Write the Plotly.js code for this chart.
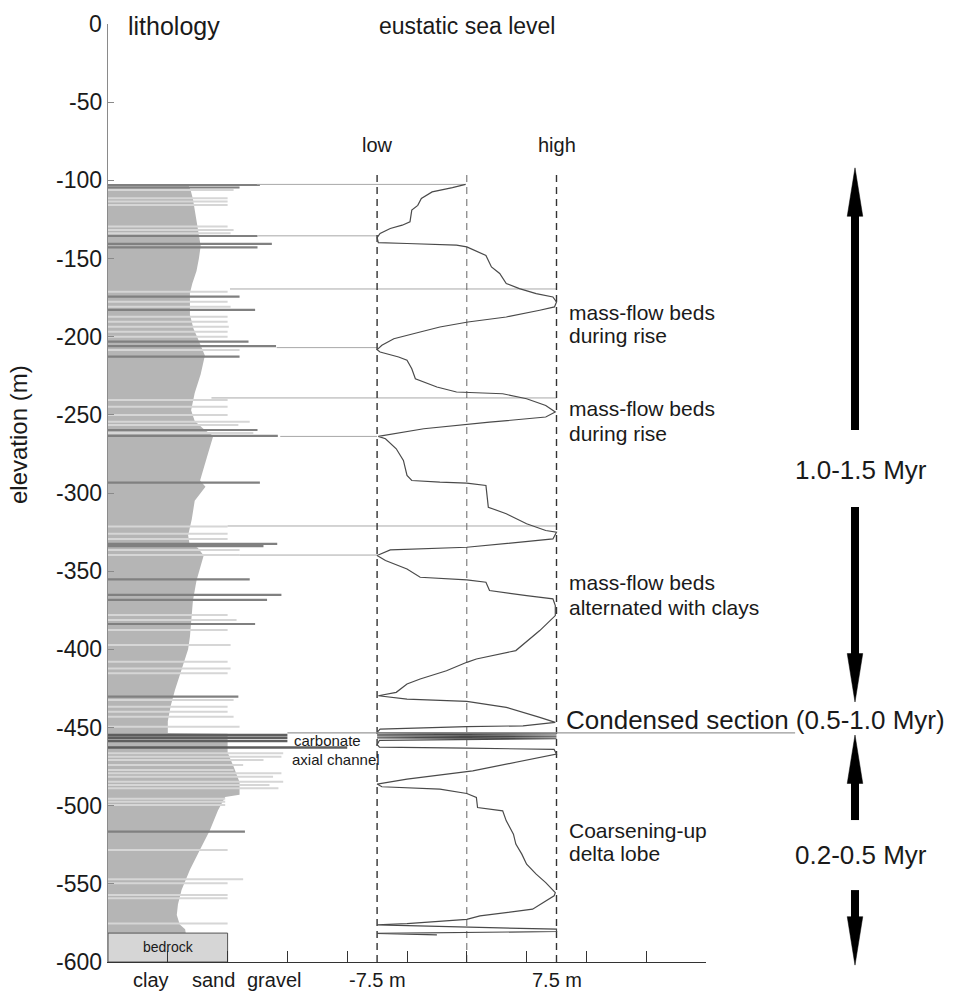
<!DOCTYPE html>
<html><head><meta charset="utf-8">
<script src="https://cdn.plot.ly/plotly-3.0.1.min.js"></script>
<style>html,body{margin:0;padding:0;background:#fff;}#chart{width:954px;height:992px;}</style>
</head><body><div id="chart"></div>
<script>
// ===== DATA =====
// eustatic sea-level curve (m relative to mean) vs elevation (m)
const seaLevelElev = [-102.6,-104.7,-107.4,-111.6,-116,-119,-126.6,-128.7,-130.8,-134,-136.6,-139.8,-140.4,-141.5,-142.6,-148,-155.4,-159.6,-166,-169.3,-172.5,-174.6,-177.8,-181,-183.1,-187.4,-190.6,-193.8,-197,-201.3,-205.5,-208.3,-209.8,-213,-215,-220.5,-226.9,-232.2,-235.4,-236.5,-239.7,-244,-248.2,-251.4,-254.7,-256.1,-258.9,-263.8,-265.3,-271.7,-279.2,-288.8,-292,-293.1,-293.7,-295.2,-309.1,-313.3,-319.7,-324,-325.1,-329.4,-334.7,-336.4,-340,-343.2,-348.6,-353.9,-355.6,-357.1,-362.4,-365.6,-367.7,-372,-378.4,-388,-400.8,-406.2,-408.3,-413.7,-419,-422.2,-427.5,-429.7,-431.8,-433.3,-437.1,-443.5,-446.7,-448.9,-449.5,-451,-453.1,-453.6,-454.2,-454.8,-455.4,-456,-456.6,-457.2,-458.2,-461,-462.6,-463.2,-464,-467,-477.7,-483,-486.2,-487.9,-489.4,-492.2,-494.8,-501.2,-503.3,-509.7,-518.2,-524.6,-531,-537.4,-543.8,-549.2,-555.6,-557.7,-566.2,-570.5,-572.7,-575.5,-576.3,-579,-580.5,-581.7,-582.6];
const seaLevelM = [-0.1,-1.2,-2.9,-3.8,-4.1,-4.6,-4.75,-5.4,-6.4,-7.25,-7.5,-7.4,-5,-0.86,0,1.6,2.06,2.75,3.3,4.4,5.8,7.2,7.5,7.33,6.1,3.3,0.1,-2.25,-3.9,-6.1,-7.1,-7.5,-7.25,-5.7,-5.0,-4.6,-4.3,-2.5,-0.86,3.0,5.0,6.6,7.4,6.6,1.9,0,-3.6,-7.4,-6.8,-5.9,-5.3,-5.0,-4.6,-2.25,0,1.6,1.8,3.3,5.0,6.6,7.5,7.2,0,-6.4,-7.5,-6.8,-5,-3.9,0,1.6,1.9,5.0,7.2,7.4,7.4,6.1,4.1,0.8,0,-1.7,-3.9,-5,-5.9,-7.4,-5,0,3.3,6.1,7.4,4.7,0,-7.25,-7.5,7.5,-7.5,7.5,-7.5,7.5,-7.5,7.5,-7.3,-7.5,-7.3,0,7.3,7.5,0.5,-5,-7.5,-7.1,-2.25,0,0.8,0.9,3.0,3.3,3.9,4.1,4.6,5.0,5.8,6.6,7.4,7.3,5.5,1.1,0,-5,-7.5,7.5,7.5,-7.5,-2.5];

// lithology: clay/sand boundary profile (grain-size units, 0 = clay, 2 = sand, 3 = gravel)
const profileElev = [-102.8,-106,-112,-122,-132,-142,-150,-158,-166,-172,-186,-195,-201,-206,-212,-224,-236,-247,-254,-259,-263.5,-275,-292,-296,-305,-317,-327,-332,-335,-340,-350,-356,-369,-381,-392,-400,-413,-426,-436,-446,-453.5,-454,-463,-466,-475,-485,-493,-494.5,-503,-516,-528,-541,-554,-563,-570,-576,-579,-581.5];
const profileWidth = [1.34,1.38,1.42,1.46,1.5,1.55,1.52,1.48,1.41,1.37,1.37,1.43,1.5,1.55,1.62,1.55,1.45,1.39,1.45,1.6,1.76,1.67,1.54,1.63,1.45,1.40,1.34,1.36,1.5,1.6,1.52,1.48,1.42,1.40,1.37,1.34,1.23,1.12,1.05,1.0,1.0,2.0,2.0,2.0,2.1,2.2,2.2,1.96,1.84,1.7,1.54,1.37,1.23,1.17,1.15,1.2,1.29,1.3];

// sand beds (light) : elevation and grain-size extent
const sandBedElev = [-106.2,-111.5,-113.6,-115.8,-129.6,-131.8,-133.9,-171.2,-177.6,-180.8,-187.2,-190.4,-193.6,-196.8,-200.0,-208.5,-240.5,-244.8,-250.1,-254.4,-256.5,-261.6,-321.5,-326,-329.5,-336.5,-339.7,-378.0,-381.2,-387.6,-397.2,-407.9,-412.2,-415.3,-432.4,-436.7,-439.9,-443.1,-449.5,-466.5,-468.7,-470.8,-474.0,-477.2,-479.3,-481.5,-484.7,-486.8,-488.9,-495.5,-497.5,-499.6,-528.4,-547.1,-549.7,-557.2,-559.3,-575.3];
const sandBedExtent = [2.1,2.0,2.0,2.0,2.0,2.1,2.05,2.0,2.0,2.05,2.0,2.0,2.02,2.0,2.0,2.2,2.0,2.0,2.0,2.37,2.18,2.43,2.0,2.0,2.0,2.2,2.2,2.0,2.15,2.0,2.05,2.0,2.05,2.0,2.1,2.0,2.0,2.1,2.2,2.93,2.9,2.6,2.26,2.1,2.9,2.76,2.93,2.7,2.85,1.96,1.96,1.96,2.0,2.26,2.0,2.0,2.0,2.0];

// gravel / mass-flow beds (dark)
const gravelBedElev = [-103.0,-104.6,-135.6,-140.7,-142.9,-174.4,-182.9,-203.2,-206.0,-212.8,-259.7,-263.5,-293.4,-332.6,-334.0,-355.2,-365.2,-368.4,-383.8,-430.3,-516.6];
const gravelBedExtent = [2.54,2.2,2.5,2.74,2.5,2.2,2.46,2.35,2.81,2.2,2.5,2.84,2.54,2.83,2.6,2.37,2.9,2.66,2.46,2.18,2.29];

// carbonate axial channel beds
const carbonateElev = [-454.8,-456.6,-458.6,-462.8];
const carbonateExtent = [3.0,3.0,3.0,4.0];

// correlation lines: elevation, start (grain-size units), end (sea level m)
const corrElev = [-102.6,-135.5,-169.5,-207.0,-239.2,-263.8,-321.1,-339.7];
const corrStart = [2.49,2.51,2.04,2.82,1.73,2.88,2.0,2.2];
const corrEndM = [-0.1,-7.5,7.5,-7.5,7.5,-7.5,7.5,-7.5];

// condensed section line
const condensedElev = -453.5;
const condensedFrom = 3.0, condensedTo = 11.49;

// bedrock
const bedrockTop = -581.5, bedrockBottom = -600, bedrockWidth = 2;

// sea-level reference lines (m)
const seaRefM = [-7.5, 0, 7.5];
const seaRefTop = -96.6;

// elevation ticks
const yTickVals = [0,-50,-100,-150,-200,-250,-300,-350,-400,-450,-500,-550,-600];
const yTickText = ['0','-50','-100','-150','-200','-250','-300','-350','-400','-450','-500','-550','-600'];

// bottom axis labels
const xLabelText = ['clay','sand','gravel','-7.5 m','7.5 m'];
const xLabelPos = [0.72, 1.77, 2.78, 4.5, 7.5];

// age intervals (double arrows)
const ageLabels = ['1.0-1.5 Myr', '0.2-0.5 Myr'];
const ageTop = [-92, -454.8];
const ageBottom = [-433.7, -602];
const ageGapTop = [-259.7, -509.2];
const ageGapBottom = [-309, -554];
const ageLabelElev = [-285.3, -531.6];

// ===== GEOMETRY =====
const W = 954, H = 992, M = {l:108, r:0, t:4, b:4};
const plotW = W - M.l - M.r, plotH = H - M.t - M.b;
const axRightPx = 706, axTopPx = 24, axBotPx = 962;
const pxPerUnit = (axRightPx - M.l) / 10;
const pxPerM = (axBotPx - axTopPx) / 600;
const xDomEnd = (axRightPx - M.l) / plotW;
const yDom = [(H - M.b - axBotPx) / plotH, (H - M.b - axTopPx) / plotH];
const x3Range = [0, plotW / pxPerUnit];
const y3Range = [-(H - M.b - axTopPx) / pxPerM, (axTopPx - M.t) / pxPerM];
const mToU = m => 6 + m / 5;   // sea-level metres -> grain-size axis units
const arrowU = (855 - M.l) / pxPerUnit;

const FONT = 'Liberation Sans, Arial, Helvetica, sans-serif';

function segs(elev, ext, x0) {
  const xs = [], ys = [];
  elev.forEach((e, i) => { xs.push(x0, ext[i], null); ys.push(e, e, null); });
  return {xs, ys};
}

const traces = [];
// clay fill
traces.push({x: profileWidth, y: profileElev, type:'scatter', mode:'lines', fill:'tozerox',
  fillcolor:'#b5b5b5', line:{width:0, color:'#b5b5b5'}, hoverinfo:'skip', xaxis:'x', yaxis:'y'});
// sand beds
let s = segs(sandBedElev, sandBedExtent, 0);
traces.push({x:s.xs, y:s.ys, type:'scatter', mode:'lines', line:{color:'#d6d6d6', width:2}, hoverinfo:'skip'});
// gravel beds
s = segs(gravelBedElev, gravelBedExtent, 0);
traces.push({x:s.xs, y:s.ys, type:'scatter', mode:'lines', line:{color:'#808080', width:2.2}, hoverinfo:'skip'});
// carbonate
s = segs(carbonateElev, carbonateExtent, 0);
traces.push({x:s.xs, y:s.ys, type:'scatter', mode:'lines', line:{color:'#5e5e5e', width:2.5}, hoverinfo:'skip'});
// correlation lines
{
  const xs = [], ys = [];
  corrElev.forEach((e, i) => { xs.push(corrStart[i], mToU(corrEndM[i]), null); ys.push(e, e, null); });
  traces.push({x:xs, y:ys, type:'scatter', mode:'lines', line:{color:'#a8a8a8', width:1}, hoverinfo:'skip'});
}
// bedrock
traces.push({x:[0,bedrockWidth,bedrockWidth,0,0], y:[bedrockTop,bedrockTop,bedrockBottom,bedrockBottom,bedrockTop],
  type:'scatter', mode:'lines', fill:'toself', fillcolor:'#d6d6d6', line:{color:'#555', width:1}, hoverinfo:'skip'});
// sea-level reference dashed lines
seaRefM.forEach((m, i) => {
  traces.push({x:[m, m], y:[seaRefTop, -600], type:'scatter', mode:'lines', xaxis:'x2', yaxis:'y',
    line:{color: i === 1 ? '#666' : '#333', width: i === 1 ? 1 : 1.4, dash:'7px,5px'}, hoverinfo:'skip'});
});
// sea-level curve
traces.push({x: seaLevelM, y: seaLevelElev, type:'scatter', mode:'lines', xaxis:'x2', yaxis:'y',
  line:{color:'#4a4a4a', width:1.2}, hoverinfo:'skip'});
// condensed section line
traces.push({x:[condensedFrom, condensedTo], y:[condensedElev, condensedElev], type:'scatter', mode:'lines',
  xaxis:'x3', yaxis:'y3', line:{color:'#999', width:1.2}, hoverinfo:'skip'});
// age arrows
const headLen = 31, headHalf = 0.13;
ageLabels.forEach((lab, i) => {
  traces.push({x:[arrowU, arrowU, null, arrowU, arrowU],
    y:[ageTop[i] - headLen + 1, ageGapTop[i], null, ageGapBottom[i], ageBottom[i] + headLen - 1],
    type:'scatter', mode:'lines', xaxis:'x3', yaxis:'y3', line:{color:'#000', width:8}, hoverinfo:'skip'});
  traces.push({x:[arrowU-headHalf, arrowU+headHalf, arrowU, arrowU-headHalf, null, arrowU-headHalf, arrowU+headHalf, arrowU, arrowU-headHalf],
    y:[ageTop[i]-headLen, ageTop[i]-headLen, ageTop[i], ageTop[i]-headLen, null, ageBottom[i]+headLen, ageBottom[i]+headLen, ageBottom[i], ageBottom[i]+headLen],
    type:'scatter', mode:'lines', fill:'toself', fillcolor:'#000', xaxis:'x3', yaxis:'y3', line:{color:'#000', width:0.5}, hoverinfo:'skip'});
});

// ===== ANNOTATIONS =====
const pxU = px => (px - M.l) / pxPerUnit;
const pxE = py => -(py - axTopPx) / pxPerM;
function ann(text, xpx, ypx, size, xanchor, extra) {
  return Object.assign({text, x: pxU(xpx), y: pxE(ypx), xref:'x3', yref:'y3', showarrow:false,
    xanchor: xanchor || 'center', yanchor:'middle', font:{family:FONT, size, color:'#1a1a1a'}}, extra || {});
}
const annotations = [
  ann('lithology', 126, 26, 25, 'left'),
  ann('eustatic sea level', 467, 26, 23, 'center'),
  ann('low', 377, 145, 20),
  ann('high', 557, 145, 20),
  ann('mass-flow beds', 567, 312, 21, 'left'),
  ann('during rise', 567, 335, 21, 'left'),
  ann('mass-flow beds', 567, 408, 21, 'left'),
  ann('during rise', 567, 433, 21, 'left'),
  ann('mass-flow beds', 567, 582, 21, 'left'),
  ann('alternated with clays', 567, 607, 21, 'left'),
  ann('Condensed section (0.5-1.0 Myr)', 564, 720, 26, 'left'),
  ann('Coarsening-up', 567, 830, 21, 'left'),
  ann('delta lobe', 567, 853, 21, 'left'),
  ann('carbonate', 292, 740, 15, 'left'),
  ann('axial channel', 290, 759, 15, 'left'),
  ann('bedrock', 168, 947, 14),
  {text:'elevation (m)', xref:'paper', yref:'y3', x:(18 - M.l)/plotW, y:pxE(435), showarrow:false,
   textangle:-90, xanchor:'center', yanchor:'middle', font:{family:FONT, size:24, color:'#1a1a1a'}}
];
xLabelText.forEach((t, i) => annotations.push({text:t, x:xLabelPos[i], y:pxE(980), xref:'x3', yref:'y3',
  showarrow:false, xanchor:'center', yanchor:'middle', font:{family:FONT, size:20, color:'#1a1a1a'}}));
yTickVals.forEach((v, i) => annotations.push({text:yTickText[i], x:(104 - M.l)/plotW, y:v, xref:'paper', yref:'y3',
  showarrow:false, xanchor:'right', yanchor:'middle', font:{family:FONT, size:23, color:'#1a1a1a'}}));
ageLabels.forEach((lab, i) => annotations.push({text:lab, x: arrowU + 0.1, y: ageLabelElev[i], xref:'x3', yref:'y3',
  showarrow:false, xanchor:'center', yanchor:'middle', font:{family:FONT, size:26, color:'#1a1a1a'}}));

const layout = {
  width: W, height: H, margin: M, paper_bgcolor:'#fff', plot_bgcolor:'rgba(0,0,0,0)', showlegend:false,
  font:{family:FONT, color:'#1a1a1a'},
  xaxis:{domain:[0, xDomEnd], range:[0,10], showgrid:false, zeroline:false, showline:true, linecolor:'#333', linewidth:1,
    ticks:'inside', ticklen:11, tickcolor:'#333', tickvals:[0,1,2,3,4,5,6,7,8,9,10], showticklabels:false, anchor:'y', fixedrange:true},
  xaxis2:{overlaying:'x', range:[-30,20], visible:false, anchor:'y', fixedrange:true},
  yaxis:{domain:yDom, range:[-600,0], showgrid:false, zeroline:false, showline:true, linecolor:'#8a8a8a', linewidth:1,
    ticks:'inside', ticklen:6, tickcolor:'#8a8a8a', tickvals:yTickVals, showticklabels:false,
    anchor:'x', fixedrange:true},
  xaxis3:{domain:[0,1], range:x3Range, visible:false, anchor:'y3', fixedrange:true},
  yaxis3:{domain:[0,1], range:y3Range, visible:false, anchor:'x3', fixedrange:true},
  annotations
};
Plotly.newPlot('chart', traces, layout, {staticPlot:true, displayModeBar:false});
</script></body></html>
